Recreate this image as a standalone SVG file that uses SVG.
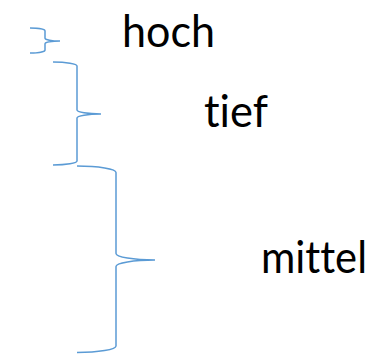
<svg xmlns="http://www.w3.org/2000/svg" width="375" height="354" viewBox="0 0 375 354">
<style>
.br{fill:none;stroke:#5B9BD5;stroke-width:1.5}
.lb{font-family:Lato,"Open Sans",sans-serif;font-size:44px;fill:#000;font-variant-ligatures:none;font-feature-settings:"liga" 0,"clig" 0,"dlig" 0}
</style>
<rect width="375" height="354" fill="#fff"/>
<g id="connectors">
<path class="br" d="M30,28 A15,3 0 0 1 45,31 L45,38 A15,3 0 0 0 60,41 A15,3 0 0 0 45,44 L45,50 A15,3 0 0 1 30,53"/>
<path class="br" d="M53,62 A24,4 0 0 1 77,66 L77,110 A24,4 0 0 0 101,114 A24,4 0 0 0 77,118 L77,161 A24,4 0 0 1 53,165"/>
<path class="br" d="M77,166 A39,6.5 0 0 1 116,172.5 L116,253.5 A39,6.5 0 0 0 155,260 A39,6.5 0 0 0 116,266.5 L116,346 A39,6.5 0 0 1 77,352.5"/>
</g>
<g id="hoch"><text class="lb" x="122" y="47" textLength="93" lengthAdjust="spacingAndGlyphs">hoch</text></g>
<g id="tief"><text class="lb" x="204" y="127" textLength="64" lengthAdjust="spacingAndGlyphs">tief</text></g>
<g id="mittel"><text class="lb" x="261" y="273" textLength="106" lengthAdjust="spacingAndGlyphs">mittel</text></g>
</svg>
